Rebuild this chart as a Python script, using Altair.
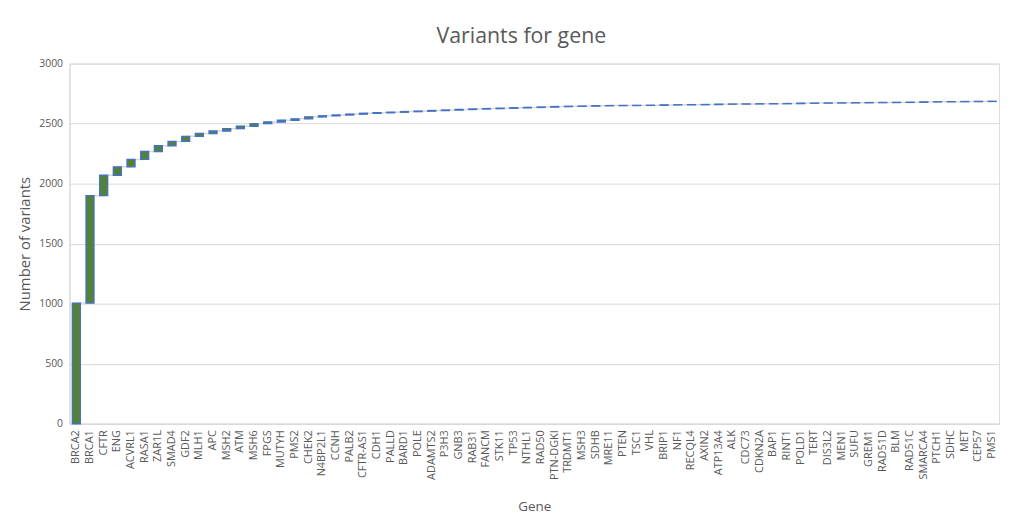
import altair as alt
import pandas as pd

genes = ["BRCA2", "BRCA1", "CFTR", "ENG", "ACVRL1", "RASA1", "ZAR1L", "SMAD4", "GDF2", "MLH1",
         "APC", "MSH2", "ATM", "MSH6", "FPGS", "MUTYH", "PMS2", "CHEK2", "N4BP2L1", "CCNH",
         "PALB2", "CFTR-AS1", "CDH1", "PALLD", "BARD1", "POLE", "ADAMTS2", "P3H3", "GNB3", "RAB31",
         "FANCM", "STK11", "TP53", "NTHL1", "RAD50", "PTN-DGKI", "TRDMT1", "MSH3", "SDHB", "MRE11",
         "PTEN", "TSC1", "VHL", "BRIP1", "NF1", "RECQL4", "AXIN2", "ATP13A4", "ALK", "CDC73",
         "CDKN2A", "BAP1", "RINT1", "POLD1", "TERT", "DIS3L2", "MEN1", "SUFU", "GREM1", "RAD51D",
         "BLM", "RAD51C", "SMARCA4", "PTCH1", "SDHC", "MET", "CEP57", "PMS1"]

variants = [1005, 895, 170, 70, 62, 66, 48, 36, 42, 24,
            20, 20, 20, 22, 14, 14, 12, 16, 9, 7,
            7, 7, 5, 4, 5, 4, 5, 4, 5, 4,
            3, 3, 4, 3, 3, 4, 2, 2, 3, 1,
            1, 1, 1, 3, 1, 1, 1, 3, 1, 1,
            1, 1, 1, 3, 1, 1, 1, 1, 1, 1,
            1, 1, 3, 1, 1, 1, 1, 1]

df = pd.DataFrame({"gene": genes, "variants": variants})
df["end"] = df["variants"].cumsum()
df["start"] = df["end"] - df["variants"]

FONT = "Open Sans"
GREY = "#595959"

x_enc = alt.X("gene:N", sort=genes, title="Gene",
              scale=alt.Scale(paddingInner=0.42, paddingOuter=0.21),
              axis=alt.Axis(labelAngle=-90, labelFontSize=11, labelColor=GREY, labelFont=FONT,
                            ticks=False, domainColor="#d9d9d9", labelPadding=6,
                            titleFont=FONT, titleFontSize=13.5, titleFontWeight="normal",
                            titleColor=GREY, titlePadding=20))

connectors = alt.Chart(df).mark_line(interpolate="step-after", color="#d9d9d9", strokeWidth=1.5).encode(
    x=x_enc,
    y=alt.Y("end:Q"),
)

bars = alt.Chart(df).mark_bar(color="#548235", stroke="#4472C4", strokeWidth=1.4).encode(
    x=x_enc,
    y=alt.Y("start:Q", title="Number of variants",
            scale=alt.Scale(domain=[0, 3000]),
            axis=alt.Axis(values=[0, 500, 1000, 1500, 2000, 2500, 3000], format="d",
                          labelFontSize=10.5, labelColor=GREY, labelFont=FONT, ticks=False,
                          domain=True, domainColor="#d9d9d9",
                          gridColor="#d9d9d9", labelPadding=7,
                          titleFont=FONT, titleFontSize=15, titleFontWeight="normal",
                          titleColor=GREY, titlePadding=6)),
    y2="end:Q",
    tooltip=["gene", "variants"],
)

chart = alt.layer(connectors, bars).properties(
    width=937, height=363,
    autosize=alt.AutoSizeParams(type="none"),
    padding={"left": 62, "top": 54, "right": 3, "bottom": 93},
    title=alt.TitleParams("Variants for gene", font=FONT, fontSize=21.5, fontWeight="normal",
                          color=GREY, offset=11, dx=-13),
).configure_view(stroke=None).configure(background="white")

chart.save("out.html", embed_options={"renderer": "svg", "actions": False})
